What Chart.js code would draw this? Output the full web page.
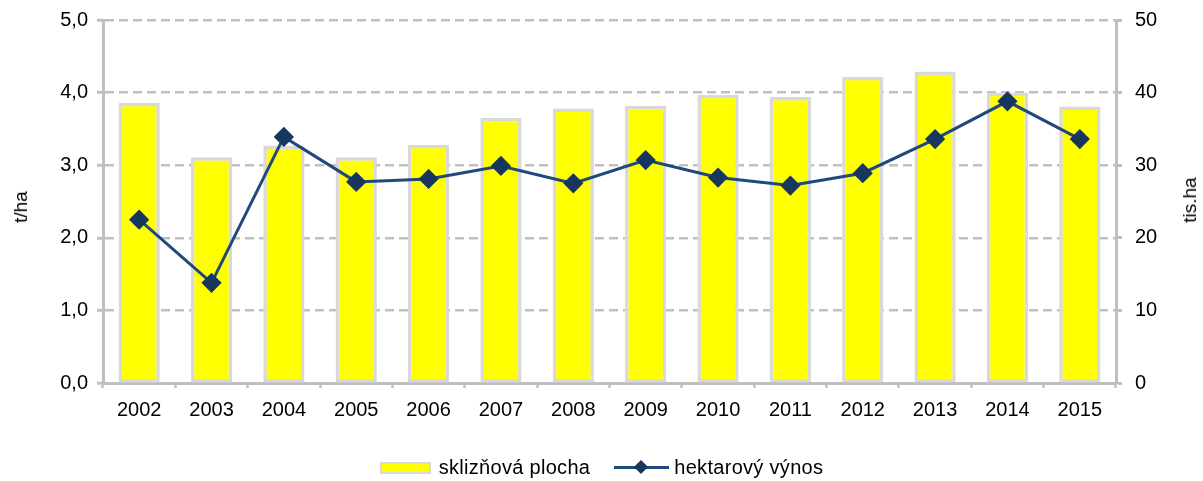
<!DOCTYPE html>
<html>
<head>
<meta charset="utf-8">
<script src="https://cdn.jsdelivr.net/npm/chart.js@4"></script>
<style>
  body { margin: 0; background: #fff; }
  #wrap { position: relative; width: 1203px; height: 481px; font-family: "Liberation Sans", Arial, sans-serif; }
  #legend { position: absolute; left: 0; top: 456px; width: 1203px; display: flex; justify-content: center; align-items: center; font-size: 20px; color: #000; letter-spacing: 0.3px; }
  .item { display: flex; align-items: center; margin: 0 12px; }
  .box { width: 47px; height: 8px; background: #ffff00; border: 2px solid #d9d9d9; margin-right: 8px; }
  .ln { position: relative; width: 55px; height: 3px; background: #1f497d; margin-right: 5px; }
  .ln i { position: absolute; left: 22px; top: -4px; width: 10px; height: 10px; background: #17375e; transform: rotate(45deg); }
  .atitle { position: absolute; font-size: 19px; color: #000; transform: translate(-50%, -50%) rotate(-90deg); white-space: nowrap; }
</style>
</head>
<body>
<div id="wrap">
  <canvas id="chart" width="1203" height="481"></canvas>
  <div class="atitle" style="left:21px; top:207px">t/ha</div>
  <div class="atitle" style="left:1190px; top:200px">tis.ha</div>
  <div id="legend"></div>
</div>
<script>
const years = ["2002", "2003", "2004", "2005", "2006", "2007", "2008", "2009", "2010", "2011", "2012", "2013", "2014", "2015"];
// harvested area, thousand ha (right axis)
const plocha = [38.6, 31.1, 32.7, 31.1, 32.8, 36.5, 37.8, 38.2, 39.7, 39.4, 42.2, 42.9, 40.0, 38.1];
// yield, t/ha (left axis)
const vynos = [2.25, 1.38, 3.39, 2.77, 2.81, 2.99, 2.75, 3.07, 2.83, 2.72, 2.89, 3.36, 3.88, 3.36];
const leftTicks = [0, 1, 2, 3, 4, 5];
const rightTicks = [0, 10, 20, 30, 40, 50];

const font = { family: '"Liberation Sans", Arial, sans-serif', size: 20 };
const gridGray = "#c0c0c0";
const axisGray = "#bfbfbf";

Chart.defaults.font.family = font.family;
Chart.defaults.color = "#000";

// keep the plot area where the reference has it, labels may overflow
const noPad = (s) => { s.paddingTop = 0; s.paddingBottom = 0; };

new Chart(document.getElementById("chart").getContext("2d"), {
  data: {
    labels: years,
    datasets: [
      {
        type: "line",
        label: "hektarový výnos",
        data: vynos,
        yAxisID: "y",
        borderColor: "#1f497d",
        borderWidth: 3,
        pointStyle: "rectRot",
        pointRadius: 8,
        pointBackgroundColor: "#17375e",
        pointBorderColor: "#17375e",
        tension: 0,
        order: 0,
      },
      {
        type: "bar",
        label: "sklizňová plocha",
        data: plocha,
        yAxisID: "y1",
        backgroundColor: "#ffff00",
        borderColor: "#d9d9d9",
        borderWidth: 3.5,
        borderSkipped: false,
        categoryPercentage: 1,
        barPercentage: 0.57,
        order: 1,
      },
    ],
  },
  options: {
    responsive: false,
    animation: false,
    layout: { padding: { top: 20, bottom: 48, left: 0, right: 0 } },
    plugins: { legend: { display: false }, tooltip: { enabled: false } },
    scales: {
      x: {
        offset: true,
        grid: { offset: true, drawOnChartArea: false, tickLength: 5, tickWidth: 2.5, tickColor: axisGray },
        border: { color: axisGray, width: 3 },
        ticks: { font, padding: 10, maxRotation: 0 },
        afterFit: (s) => { s.height = 50; s.paddingLeft = 0; s.paddingRight = 0; },
      },
      y: {
        position: "left",
        min: 0,
        max: 5,
        afterBuildTicks: (s) => { s.ticks = leftTicks.map((v) => ({ value: v })); },
        ticks: { font, padding: 9, callback: (v) => v.toFixed(1).replace(".", ",") },
        grid: { color: gridGray, lineWidth: 2.5, tickLength: 6, tickColor: axisGray, tickWidth: 3, tickBorderDash: [] },
        border: { color: axisGray, width: 3, dash: [9, 5] },
        afterFit: (s) => { s.width = 103; noPad(s); },
      },
      y1: {
        position: "right",
        min: 0,
        max: 50,
        afterBuildTicks: (s) => { s.ticks = rightTicks.map((v) => ({ value: v })); },
        ticks: { font, padding: 13 },
        grid: { drawOnChartArea: false, tickLength: 6, tickColor: axisGray, tickWidth: 3 },
        border: { color: axisGray, width: 3 },
        afterFit: (s) => { s.width = 87; noPad(s); },
      },
    },
  },
});

// legend below the chart, bar entry first
document.getElementById("legend").innerHTML = `
  <div class="item"><span class="box"></span>sklizňová plocha</div>
  <div class="item"><span class="ln"><i></i></span>hektarový výnos</div>
`;
</script>
</body>
</html>
